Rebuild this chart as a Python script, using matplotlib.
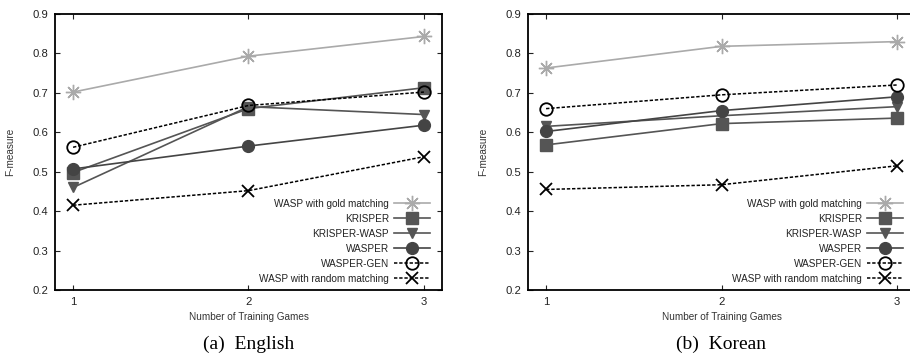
"""F-measure vs number of training games, English and Korean panels."""

import matplotlib
import matplotlib.pyplot as plt

matplotlib.use("Agg")

plt.rcParams["font.family"] = ["Liberation Sans", "DejaVu Sans"]

games = [1, 2, 3]
series_names = [
    "WASP with gold matching",
    "KRISPER",
    "KRISPER-WASP",
    "WASPER",
    "WASPER-GEN",
    "WASP with random matching",
]

english_gold = [0.702, 0.793, 0.843]
english_krisper = [0.498, 0.660, 0.713]
english_krisper_wasp = [0.460, 0.665, 0.645]
english_wasper = [0.507, 0.565, 0.618]
english_wasper_gen = [0.562, 0.668, 0.702]
english_random = [0.415, 0.452, 0.538]

korean_gold = [0.763, 0.818, 0.830]
korean_krisper = [0.568, 0.622, 0.636]
korean_krisper_wasp = [0.615, 0.642, 0.665]
korean_wasper = [0.602, 0.655, 0.690]
korean_wasper_gen = [0.660, 0.695, 0.720]
korean_random = [0.455, 0.467, 0.515]

y_ticks = [0.2, 0.3, 0.4, 0.5, 0.6, 0.7, 0.8, 0.9]

DOTTED = (0, (2.2, 1.2))
STYLES = [
    dict(color="#aaaaaa", marker=(8, 2, 0), markersize=11, markeredgewidth=1.0,
         linestyle="-", linewidth=1.2),
    dict(color="#555555", marker="s", markersize=8, linestyle="-", linewidth=1.2),
    dict(color="#555555", marker="v", markersize=7.5, linestyle="-", linewidth=1.2),
    dict(color="#444444", marker="o", markersize=8.5, linestyle="-", linewidth=1.2),
    dict(color="black", marker="o", markersize=9, markerfacecolor="none",
         markeredgewidth=1.3, linestyle=DOTTED, linewidth=1.1),
    dict(color="black", marker="x", markersize=9, markeredgewidth=1.3,
         linestyle=DOTTED, linewidth=1.1),
]


def draw_panel(ax, data, caption):
    for values, name, style in zip(data, series_names, STYLES):
        ax.plot(games, values, label=name, clip_on=False, **style)

    ax.set_xlim(0.897, 3.103)
    ax.set_ylim(0.2, 0.9)
    ax.set_xticks(games)
    ax.set_yticks(y_ticks)
    ax.set_yticklabels([f"{t:.1f}" for t in y_ticks])
    ax.tick_params(direction="in", length=3.5, width=0.8, top=True, right=True,
                   labelsize=8.1, colors="#222222", pad=5)
    for spine in ax.spines.values():
        spine.set_linewidth(1.3)
    ax.set_xlabel("Number of Training Games", fontsize=7.2, color="#333333", labelpad=4)
    ax.set_ylabel("F-measure", fontsize=7.2, color="#333333", labelpad=12)

    ax.legend(loc="lower right", bbox_to_anchor=(0.969, 0.022), frameon=False,
              markerfirst=False, fontsize=7.2, labelspacing=0.5, handlelength=3.6,
              handletextpad=0.5, borderpad=0, borderaxespad=0, labelcolor="#222222")

    ax.text(0.5, -0.196, caption, transform=ax.transAxes, ha="center", va="center",
            fontsize=14, family=["Liberation Serif", "DejaVu Serif"])


fig = plt.figure(figsize=(9.1, 3.54), dpi=100)
ax_en = fig.add_axes([55 / 910, 64 / 354, 387 / 910, 276 / 354])
ax_ko = fig.add_axes([528 / 910, 64 / 354, 387 / 910, 276 / 354])

draw_panel(ax_en, [english_gold, english_krisper, english_krisper_wasp,
                   english_wasper, english_wasper_gen, english_random], "(a)  English")
draw_panel(ax_ko, [korean_gold, korean_krisper, korean_krisper_wasp,
                   korean_wasper, korean_wasper_gen, korean_random], "(b)  Korean")

fig.savefig("out.png", dpi=100)
